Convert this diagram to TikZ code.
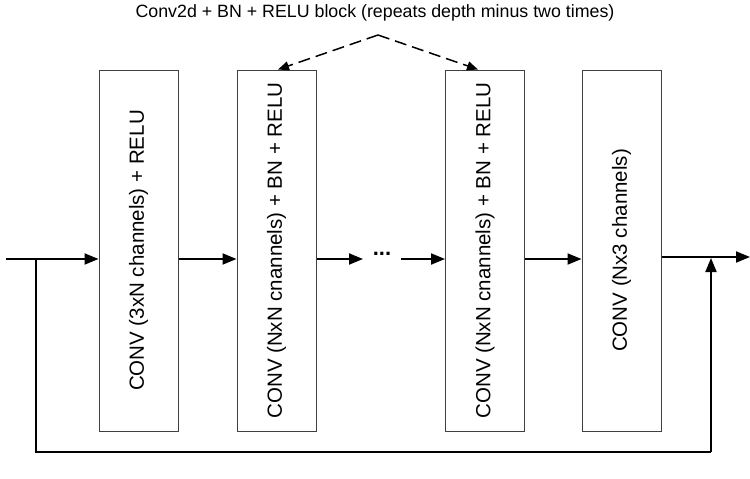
\documentclass[tikz,border=0pt]{standalone}
\usepackage{fontspec}
\setmainfont{Liberation Sans}
\usetikzlibrary{arrows.meta}
\begin{document}
\begin{tikzpicture}[x=1pt,y=-1pt,
  convbox/.style={draw=black!75,line width=1pt,minimum width=79pt,minimum height=361pt,inner sep=0pt,font=\fontsize{20.5}{24}\selectfont},
  conn/.style={draw=black,line width=2pt,-{Triangle[length=14pt,width=11pt]}},
  plain/.style={draw=black,line width=2pt},
  dasharrow/.style={draw=black,line width=1.5pt,dash pattern=on 12pt off 6pt,-{Triangle[length=11pt,width=9pt]}}]
\useasboundingbox (0,0) rectangle (750,479);
\node[font=\fontsize{17.8}{21}\selectfont] (title) at (375,13) {Conv2d + BN + RELU block (repeats depth minus two times)};
\node[convbox] (b1) at (138.5,250.5) {\rotatebox{90}{CONV (3xN channels) + RELU}};
\node[convbox] (b2) at (276.5,250.5) {\rotatebox{90}{CONV (NxN cnannels) + BN + RELU}};
\node[convbox] (b3) at (485,250.5) {\rotatebox{90}{CONV (NxN cnannels) + BN + RELU}};
\node[convbox] (b4) at (621.5,250.5) {\rotatebox{90}{CONV (Nx3 channels)}};
\node[font=\fontsize{22}{24}\selectfont\bfseries,inner sep=0pt] (dots) at (382,254) {...};
\coordinate (in) at (6,259);
\coordinate (br) at (36,259);
\coordinate (bl) at (36,452);
\coordinate (brr) at (711,452);
\coordinate (mj) at (711,258);
\coordinate (out) at (750,257);
\coordinate (apex) at (378,35);
\coordinate (d1) at (363,259);
\coordinate (d2) at (401,259);
\draw[conn] (in) -- (b1.west |- in);
\draw[conn] (b1.east |- in) -- (b2.west |- in);
\draw[conn] (b2.east |- in) -- (d1);
\draw[conn] (d2) -- (b3.west |- in);
\draw[conn] (b3.east |- in) -- (b4.west |- in);
\draw[conn] (b4.east |- out) -- (out);
\draw[plain] (br) -- (bl) -- (brr);
\draw[conn] (brr) -- (mj);
\draw[dasharrow] (apex) -- (b2.north -| 278,0);
\draw[dasharrow] (apex) -- (b3.north -| 478,0);
\end{tikzpicture}
\end{document}
